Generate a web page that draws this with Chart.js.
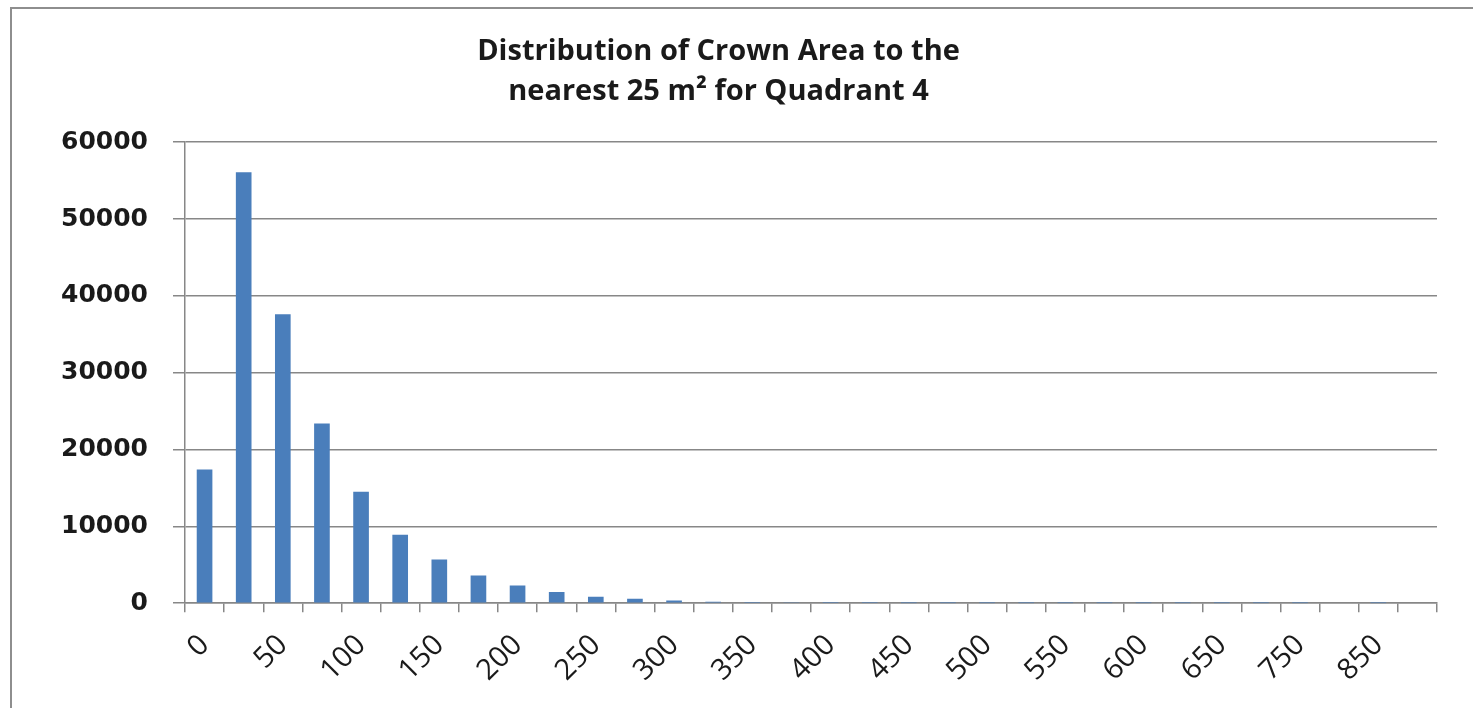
<!DOCTYPE html>
<html>
<head>
<meta charset="utf-8">
<script src="https://cdn.jsdelivr.net/npm/chart.js@4.4.1/dist/chart.umd.min.js"></script>
<style>
  html, body { margin: 0; padding: 0; background: #fff; overflow: hidden; }
  .frame {
    position: absolute; left: 10px; top: 7px; width: 1520px; height: 760px;
    border-left: 2px solid #8e8e8e; border-top: 2px solid #8e8e8e;
  }
  .wrap { position: absolute; left: 0; top: 0; width: 1473px; height: 708px; }
</style>
</head>
<body>
<div class="frame"></div>
<div class="wrap"><canvas id="chartCopa"></canvas></div>
<script>
// crown area classes (m², nearest 25) and tree counts
const classes = [0, 25, 50, 75, 100, 125, 150, 175, 200, 225, 250, 275, 300, 325, 350, 375,
  400, 425, 450, 475, 500, 525, 550, 575, 600, 625, 650, 700, 750, 800, 850, 900];
const contagem = [17400, 56100, 37600, 23400, 14500, 8900, 5700, 3600, 2300, 1450, 830, 580,
  350, 190, 170, 60, 35, 20, 12, 8, 5, 4, 3, 2, 2, 1, 1, 1, 1, 0, 1, 0];
const yTicks = [0, 10000, 20000, 30000, 40000, 50000, 60000];
const titulo = ['Distribution of Crown Area to the', 'nearest 25 m² for Quadrant 4'];

const cinza = '#878787';

function renderChart() {
  const ctx = document.getElementById('chartCopa');
  return new Chart(ctx, {
    type: 'bar',
    data: {
      labels: classes.map(String),
      datasets: [{
        data: contagem,
        backgroundColor: '#4a7ebb',
        borderWidth: 0,
        barPercentage: 0.4,
        categoryPercentage: 1,
      }]
    },
    options: {
      responsive: true,
      maintainAspectRatio: false,
      animation: false,
      layout: { padding: { left: 0, right: 36, top: 0, bottom: 4 } },
      plugins: {
        legend: { display: false },
        tooltip: { enabled: false },
        title: {
          display: true,
          text: titulo,
          color: '#1a1a1a',
          font: { family: 'Open Sans', size: 29, weight: 'bold', lineHeight: 1.4 },
          padding: { top: 31, bottom: 30 },
        }
      },
      scales: {
        x: {
          grid: {
            offset: true,
            drawOnChartArea: false,
            color: cinza,
            lineWidth: 1.5,
            tickLength: 9,
          },
          border: { color: cinza, width: 1.5 },
          ticks: {
            autoSkip: false,
            maxRotation: 45,
            minRotation: 45,
            color: '#1a1a1a',
            padding: 16,
            font: { family: 'Open Sans', size: 29 },
            callback: (val, i) => (i % 2 === 0 ? classes[i] : ''),
          }
        },
        y: {
          min: 0,
          max: 60000,
          afterFit: scale => { scale.width = 185; },
          afterBuildTicks: scale => { scale.ticks = yTicks.map(v => ({ value: v })); },
          grid: { color: cinza, lineWidth: 1.5, tickLength: 12 },
          border: { color: cinza, width: 1.5 },
          ticks: {
            color: '#1a1a1a',
            padding: 25,
            font: { family: 'DejaVu Sans', size: 25, weight: 'bold' },
            callback: v => String(v),
          }
        }
      }
    }
  });
}

renderChart();
</script>
</body>
</html>
